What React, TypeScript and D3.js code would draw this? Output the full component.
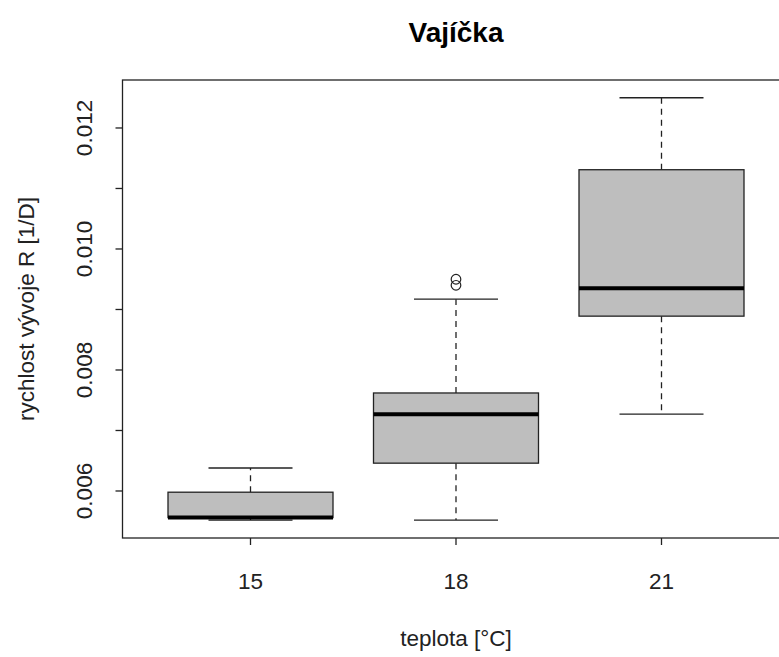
import React from "react";
import * as d3 from "d3";

const categories = ["15", "18", "21"];
const whiskerLow = [0.00552, 0.00552, 0.00727];
const q1 = [0.00556, 0.00646, 0.00889];
const medians = [0.00556, 0.00727, 0.00935];
const q3 = [0.00598, 0.00762, 0.01131];
const whiskerHigh = [0.00638, 0.00917, 0.0125];
const outliers = [
  { group: "18", value: 0.0095 },
  { group: "18", value: 0.0094 },
];
const yTicks = [0.006, 0.007, 0.008, 0.009, 0.01, 0.011, 0.012];
const yLabels = [0.006, 0.008, 0.01, 0.012];

const W = 779;
const H = 657;
const left = 122.5;
const right = 790;
const top = 80;
const bottom = 538;

export default function App() {
  const x = d3
    .scalePoint<string>()
    .domain(categories)
    .range([250.5, 661.5]);
  const y = d3.scaleLinear().domain([0.005223, 0.012793]).range([bottom, top]);
  const boxW = 165;
  const capW = 84;
  const font = "Liberation Sans, Arial, sans-serif";
  const fmt = d3.format(".3f");
  const fs = 22.5;

  return (
    <div style={{ position: "absolute", left: 0, top: 0 }}>
      <svg width={W} height={H} style={{ display: "block" }} fontFamily={font}>
        <rect width={W} height={H} fill="white" />
        <text x={456} y={42} textAnchor="middle" fontSize={28} fontWeight="bold" fill="#000">
          Vajíčka
        </text>
        {categories.map((c, i) => {
          const cx = x(c)!;
          return (
            <g key={c}>
              <line x1={cx} x2={cx} y1={y(q3[i])} y2={y(whiskerHigh[i])} stroke="#222" strokeWidth={1.3} strokeDasharray="6,5" />
              <line x1={cx} x2={cx} y1={y(q1[i])} y2={y(whiskerLow[i])} stroke="#222" strokeWidth={1.3} strokeDasharray="6,5" />
              <line x1={cx - capW / 2} x2={cx + capW / 2} y1={y(whiskerHigh[i])} y2={y(whiskerHigh[i])} stroke="#222" strokeWidth={1.3} />
              <line x1={cx - capW / 2} x2={cx + capW / 2} y1={y(whiskerLow[i])} y2={y(whiskerLow[i])} stroke="#222" strokeWidth={1.3} />
              <rect x={cx - boxW / 2} y={y(q3[i])} width={boxW} height={y(q1[i]) - y(q3[i])} fill="#BEBEBE" stroke="#222" strokeWidth={1.3} />
              <line x1={cx - boxW / 2} x2={cx + boxW / 2} y1={y(medians[i])} y2={y(medians[i])} stroke="#000" strokeWidth={4} />
            </g>
          );
        })}
        {outliers.map((o, i) => (
          <circle key={i} cx={x(o.group)!} cy={y(o.value)} r={4.8} fill="none" stroke="#222" strokeWidth={1.2} />
        ))}
        <rect x={left} y={top} width={right - left} height={bottom - top} fill="none" stroke="#222" strokeWidth={1.3} />
        {yTicks.map((t) => (
          <line key={t} x1={left - 7} x2={left} y1={y(t)} y2={y(t)} stroke="#222" strokeWidth={1.3} />
        ))}
        {yLabels.map((t) => (
          <text key={t} transform={`translate(92,${y(t)}) rotate(-90)`} textAnchor="middle" fontSize={fs} fill="#222">
            {fmt(t)}
          </text>
        ))}
        {categories.map((c) => (
          <g key={c}>
            <line x1={x(c)!} x2={x(c)!} y1={bottom} y2={bottom + 7} stroke="#222" strokeWidth={1.3} />
            <text x={x(c)!} y={589} textAnchor="middle" fontSize={fs} fill="#222">
              {c}
            </text>
          </g>
        ))}
        <text x={456} y={646} textAnchor="middle" fontSize={fs} fill="#222">
          teplota [°C]
        </text>
        <text transform={`translate(34,${(top + bottom) / 2}) rotate(-90)`} textAnchor="middle" fontSize={fs} fill="#222">
          rychlost vývoje R [1/D]
        </text>
      </svg>
    </div>
  );
}
